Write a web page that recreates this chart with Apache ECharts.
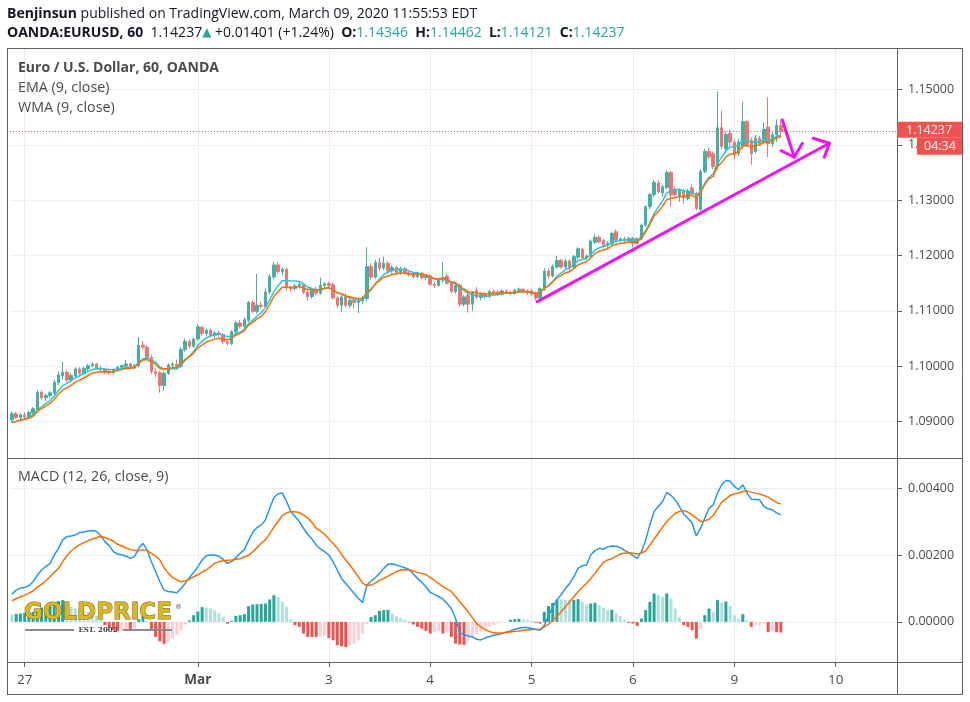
<!DOCTYPE html>
<html><head><meta charset="utf-8">
<script src="https://cdn.jsdelivr.net/npm/echarts@6/dist/echarts.min.js"></script>
<style>html,body{margin:0;padding:0;background:#fff}#c{width:970px;height:702px}</style>
</head><body><div id="c"></div>
<script>
// ---- time axis: hourly sessions (date, first hour, last hour) ----
const sessions = [['02-26',21,23],['02-27',0,23],['02-28',0,16],['03-01',17,23],['03-02',0,23],['03-03',0,23],
  ['03-04',0,23],['03-05',0,23],['03-06',0,16],['03-08',17,23],['03-09',0,23],['03-10',0,14]];
const tickLabels = {'02-27 00':'27','03-01 17':'Mar','03-03 00':'3','03-04 00':'4','03-05 00':'5','03-06 00':'6','03-09 00':'9','03-10 00':'10'};
const priceTicks = [1.09,1.10,1.11,1.12,1.13,1.14,1.15];
const macdTicks = [0,0.002,0.004];

// ---- OHLC (hourly) ----
const open = [
1.0903,1.0914,1.0907,1.0912,1.0908,1.0915,1.0922,1.0953,1.0943,1.0947,
1.0951,1.0970,1.0983,1.0989,1.0975,1.0982,1.0995,1.0987,1.0995,1.1001,
1.1004,1.0996,1.0994,1.0990,1.0988,1.0993,1.0998,1.1000,1.1004,1.0998,
1.1001,1.1038,1.1034,1.1016,1.0990,1.0988,1.0965,1.0987,1.1002,1.1003,
1.1000,1.1030,1.1045,1.1036,1.1049,1.1070,1.1059,1.1065,1.1056,1.1060,
1.1057,1.1044,1.1041,1.1062,1.1078,1.1072,1.1083,1.1115,1.1099,1.1110,
1.1108,1.1134,1.1161,1.1183,1.1171,1.1175,1.1142,1.1140,1.1145,1.1148,
1.1133,1.1126,1.1139,1.1132,1.1146,1.1149,1.1147,1.1123,1.1110,1.1125,
1.1110,1.1119,1.1115,1.1118,1.1122,1.1180,1.1161,1.1187,1.1177,1.1186,
1.1172,1.1178,1.1168,1.1176,1.1168,1.1165,1.1162,1.1168,1.1160,1.1163,
1.1148,1.1146,1.1156,1.1163,1.1150,1.1135,1.1146,1.1112,1.1128,1.1112,
1.1137,1.1124,1.1130,1.1126,1.1135,1.1134,1.1130,1.1136,1.1134,1.1131,
1.1137,1.1139,1.1136,1.1136,1.1132,1.1123,1.1139,1.1172,1.1163,1.1179,
1.1191,1.1179,1.1190,1.1179,1.1197,1.1211,1.1196,1.1199,1.1224,1.1233,
1.1227,1.1218,1.1221,1.1243,1.1227,1.1230,1.1226,1.1231,1.1222,1.1230,
1.1255,1.1288,1.1310,1.1331,1.1313,1.1323,1.1350,1.1320,1.1308,1.1317,
1.1303,1.1322,1.1312,1.1283,1.1352,1.1388,1.1384,1.1362,1.1431,1.1393,
1.1421,1.1405,1.1384,1.1397,1.1442,1.1408,1.1388,1.1412,1.1405,1.1432,
1.1402,1.1418,1.14346];
const high = [
1.0918,1.0917,1.0915,1.0916,1.0919,1.0926,1.0957,1.0956,1.0950,1.0955,
1.0975,1.0990,1.1008,1.0993,1.0987,1.0998,1.0998,1.0999,1.1004,1.1007,
1.1006,1.1001,1.0997,1.0994,1.0996,1.1000,1.1003,1.1011,1.1006,1.1004,
1.1053,1.1045,1.1038,1.1020,1.0996,1.0991,1.0990,1.1005,1.1007,1.1012,
1.1034,1.1050,1.1048,1.1052,1.1076,1.1073,1.1068,1.1068,1.1063,1.1064,
1.1060,1.1048,1.1065,1.1082,1.1083,1.1088,1.1118,1.1119,1.1167,1.1116,
1.1141,1.1166,1.1189,1.1188,1.1178,1.1178,1.1146,1.1149,1.1152,1.1150,
1.1137,1.1142,1.1143,1.1160,1.1152,1.1153,1.1151,1.1127,1.1128,1.1132,
1.1124,1.1124,1.1122,1.1127,1.1215,1.1186,1.1192,1.1196,1.1198,1.1190,
1.1182,1.1181,1.1180,1.1179,1.1172,1.1170,1.1171,1.1170,1.1166,1.1166,
1.1152,1.1160,1.1188,1.1168,1.1154,1.1150,1.1149,1.1128,1.1138,1.1136,
1.1143,1.1133,1.1134,1.1138,1.1138,1.1137,1.1139,1.1139,1.1137,1.1140,
1.1142,1.1141,1.1139,1.1139,1.1135,1.1143,1.1177,1.1176,1.1184,1.1199,
1.1194,1.1194,1.1193,1.1201,1.1215,1.1214,1.1202,1.1229,1.1239,1.1236,
1.1230,1.1226,1.1243,1.1247,1.1233,1.1234,1.1234,1.1234,1.1233,1.1258,
1.1291,1.1313,1.1337,1.1336,1.1328,1.1354,1.1353,1.1324,1.1321,1.1320,
1.1320,1.1328,1.1315,1.1356,1.1392,1.1395,1.1388,1.1497,1.1462,1.1424,
1.1427,1.1410,1.1410,1.1478,1.1445,1.1413,1.1418,1.1416,1.1440,1.1486,
1.1425,1.1446,1.14462];
const low = [
1.0898,1.0905,1.0903,1.0905,1.0906,1.0912,1.0919,1.0939,1.0937,1.0942,
1.0948,1.0966,1.0976,1.0971,1.0972,1.0979,1.0984,1.0984,1.0991,1.0998,
1.0993,1.0990,1.0986,1.0985,1.0985,1.0990,1.0994,1.0997,1.0995,1.0994,
1.0998,1.1030,1.1012,1.0986,1.0980,1.0952,1.0955,1.0984,1.0998,1.0996,
1.0997,1.1026,1.1032,1.1033,1.1046,1.1055,1.1054,1.1052,1.1051,1.1053,
1.1040,1.1037,1.1038,1.1058,1.1068,1.1069,1.1080,1.1096,1.1095,1.1103,
1.1105,1.1130,1.1157,1.1166,1.1165,1.1136,1.1135,1.1137,1.1140,1.1130,
1.1118,1.1122,1.1128,1.1129,1.1140,1.1142,1.1120,1.1105,1.1098,1.1106,
1.1106,1.1104,1.1096,1.1112,1.1118,1.1157,1.1158,1.1172,1.1174,1.1168,
1.1168,1.1165,1.1165,1.1165,1.1162,1.1158,1.1159,1.1157,1.1155,1.1145,
1.1142,1.1143,1.1150,1.1147,1.1132,1.1131,1.1107,1.1108,1.1097,1.1100,
1.1121,1.1119,1.1122,1.1123,1.1129,1.1127,1.1128,1.1130,1.1128,1.1129,
1.1133,1.1132,1.1129,1.1127,1.1119,1.1120,1.1136,1.1158,1.1160,1.1176,
1.1176,1.1175,1.1170,1.1176,1.1193,1.1192,1.1192,1.1196,1.1221,1.1222,
1.1215,1.1214,1.1218,1.1225,1.1224,1.1223,1.1223,1.1215,1.1219,1.1227,
1.1252,1.1284,1.1306,1.1312,1.1306,1.1320,1.1288,1.1306,1.1297,1.1294,
1.1300,1.1308,1.1282,1.1281,1.1349,1.1374,1.1356,1.1355,1.1392,1.1387,
1.1399,1.1374,1.1380,1.1393,1.1396,1.1364,1.1384,1.1398,1.1401,1.1378,
1.1397,1.1405,1.14121];
const close = [
1.0914,1.0907,1.0912,1.0908,1.0916,1.0923,1.0953,1.0943,1.0947,1.0952,
1.0971,1.0984,1.0989,1.0975,1.0983,1.0995,1.0987,1.0996,1.1001,1.1004,
1.0996,1.0994,1.0989,1.0988,1.0994,1.0998,1.1001,1.1004,1.0998,1.1001,
1.1038,1.1034,1.1016,1.0990,1.0987,1.0965,1.0987,1.1002,1.1004,1.1000,
1.1030,1.1045,1.1036,1.1049,1.1071,1.1059,1.1065,1.1056,1.1060,1.1057,
1.1044,1.1041,1.1062,1.1078,1.1072,1.1084,1.1115,1.1099,1.1110,1.1108,
1.1134,1.1162,1.1183,1.1171,1.1175,1.1142,1.1140,1.1145,1.1148,1.1133,
1.1126,1.1139,1.1132,1.1146,1.1149,1.1146,1.1123,1.1110,1.1125,1.1110,
1.1119,1.1115,1.1118,1.1122,1.1180,1.1161,1.1187,1.1177,1.1186,1.1172,
1.1178,1.1168,1.1176,1.1168,1.1165,1.1162,1.1168,1.1160,1.1163,1.1148,
1.1146,1.1156,1.1160,1.1150,1.1135,1.1146,1.1112,1.1125,1.1112,1.1133,
1.1125,1.1130,1.1126,1.1135,1.1133,1.1130,1.1136,1.1133,1.1131,1.1137,
1.1139,1.1135,1.1132,1.1130,1.1123,1.1140,1.1172,1.1163,1.1180,1.1191,
1.1179,1.1190,1.1178,1.1198,1.1212,1.1196,1.1199,1.1226,1.1233,1.1225,
1.1218,1.1222,1.1240,1.1228,1.1230,1.1226,1.1231,1.1222,1.1230,1.1255,
1.1288,1.1310,1.1332,1.1315,1.1324,1.1350,1.1310,1.1310,1.1317,1.1304,
1.1316,1.1312,1.1285,1.1352,1.1388,1.1378,1.1361,1.1431,1.1397,1.1419,
1.1405,1.1383,1.1405,1.1442,1.1401,1.1384,1.1412,1.1402,1.1428,1.1402,
1.1418,1.1435,1.14237];
// level of the averages at the left edge (from prior, unseen bars)
const priorLevel = 1.0894;

// ---- MACD (12, 26, close, 9), in units of 1e-5 ----
const MACD_UNIT = 1e-5;
const macdLine = [
83,95,101,103,108,120,140,155,165,175, 200,220,245,255,257,260,267,269,272,273,
270,258,240,228,210,203,200,197,190,195, 220,235,215,180,150,120,95,91,89,87,
100,115,132,148,165,185,198,200,200,196, 186,175,180,192,205,216,243,268,282,290,
305,340,372,383,385,360,330,315,300,280, 262,248,230,218,210,200,180,155,130,115,
100,85,70,58,110,122,132,145,160,172, 174,170,166,162,157,143,130,118,105,88,
82,76,68,55,40,10,-32,-38,-42,-45, -52,-54,-48,-44,-40,-38,-35,-30,-27,-22,
-19,-17,-17,-20,-22,-25,-10,18,45,65, 82,100,115,135,160,168,170,200,213,220,
217,224,227,226,222,214,207,198,190,210, 245,290,330,345,360,387,378,365,345,322,
310,295,257,280,310,340,350,385,410,423, 421,405,395,410,385,367,366,365,345,338,
335,326,320];
const signalLine = [
63,69,75,80,86,93,104,112,123,135, 148,160,180,198,212,222,230,237,243,248,
252,255,252,247,241,232,227,221,216,214, 213,216,213,205,197,185,162,145,133,126,
120,122,127,135,141,149,155,165,175,180, 183,184,185,187,189,194,199,210,222,235,
245,264,283,300,318,326,330,329,327,320, 311,298,280,272,262,248,235,220,202,185,
170,152,135,116,108,110,116,124,130,137, 143,150,155,156,155,152,148,145,141,133,
124,115,105,98,91,76,60,45,30,12, -5,-15,-23,-29,-33,-33,-33,-32,-30,-28,
-27,-25,-24,-23,-23,-23,-15,-7,5,16, 30,45,60,75,90,103,115,130,145,162,
178,185,189,196,203,205,207,205,203,206, 212,230,248,265,283,300,313,325,330,333,
328,320,310,300,302,307,318,338,358,368, 378,383,385,390,391,388,385,382,378,373,
365,357,352];
const histogram = [
22,24,25,27,28,30,36,43,45,48, 52,62,65,57,45,40,37,32,28,25,
18,5,-10,-18,-25,-28,-27,-24,-26,-19, 8,18,2,-25,-45,-58,-66,-60,-50,-40,
-25,-8,4,20,31,44,43,40,35,25, 15,-5,3,18,20,23,47,52,53,54,
55,67,80,75,60,45,7,-10,-15,-35, -45,-45,-45,-44,-42,-48,-55,-70,-73,-75,
-70,-65,-55,-35,-7,15,20,33,35,36, 25,17,12,7,-2,-8,-15,-20,-27,-35,
-30,-27,-35,-30,-45,-65,-68,-69,-55,-45, -38,-30,-23,-15,-10,-5,-2,0,6,8,
9,8,6,3,-3,-5,30,47,57,67, 67,66,65,66,68,60,52,55,57,50,
42,35,36,25,17,7,-3,-5,-12,10, 35,60,85,80,75,85,70,40,15,-10,
-15,-25,-50,-20,20,40,30,65,58,61, 47,20,9,23,5,-15,-10,-9,-7,-30,
-28,-31,-32];

// ---- drawn annotations, in (bar index, price) ----
const trendLine = [[124.36,1.11165],[193.49,1.14028]];
const trendArrowHead = [[189.70,1.14118],[193.49,1.14028],[192.31,1.13775]];
const downArrowShaft = [[182.36,1.14449],[185.20,1.13775]];
const downArrowHead = [[182.05,1.13894],[185.20,1.13775],[187.10,1.14028]];
const countdown = '04:34';
const changeText = '+0.01401 (+1.24%)';

// ---- build ----
const categories = [];
sessions.forEach(([d,a,b]) => { for (let h=a; h<=b; h++) categories.push(d+' '+String(h).padStart(2,'0')); });
const tickIdx = categories.map((c,i)=> tickLabels[c] ? i : -1).filter(i=>i>=0);
const N = categories.length;
const last = close.length - 1;

function calcEMA(src, n, seed){ const k=2/(n+1); let e=seed; return src.map(v => (e = e + k*(v-e))); }
function calcWMA(src, n, seed){
  return src.map((v,i)=>{ let s=0,w=0; for(let k=0;k<n;k++){ const x = i-k>=0 ? src[i-k] : seed; s+=(n-k)*x; w+=n-k; } return s/w; });
}
const ema = calcEMA(close, 9, priorLevel);
const wma = calcWMA(close, 9, priorLevel);

const UP='#45b0a2', DOWN='#f07472';
const candleData = open.map((o,i)=>[o, close[i], low[i], high[i]]);
const histData = histogram.map((h,i)=>{
  const prev = i>0 ? histogram[i-1] : h;
  const col = h>=0 ? (prev<h ? '#26a69a' : '#b2dfdb') : (prev<h ? '#ffcdd2' : '#ef5350');
  return {value: h*MACD_UNIT, itemStyle:{color: col}};
});

const GRID_C='#e8eef3', AX='#5d606b', TXT='#4a4a4a', FONT='"Open Sans", "Liberation Sans", sans-serif';
const gridL=9.9, gridW=887.1;

const chart = echarts.init(document.getElementById('c'));
const hiddenCat = g => ({type:'category', gridIndex:g, position:'bottom', data:categories, boundaryGap:true,
  axisLine:{show:false, onZero:false}, axisTick:{show:false}, axisLabel:{show:false}, splitLine:{show:false}});
const option = {
  animation:false,
  backgroundColor:'#fff',
  grid:[
    {left:gridL, top:48, width:gridW, height:410, outerBoundsMode:'none'},
    {left:gridL, top:458, width:gridW, height:204, outerBoundsMode:'none'}
  ],
  xAxis:[
    hiddenCat(0), hiddenCat(1),
    {type:'value', gridIndex:0, position:'bottom', min:-0.5, max:N-0.5,
      axisLine:{show:false, onZero:false}, axisTick:{show:false, customValues:tickIdx},
      axisLabel:{show:false, customValues:tickIdx}, splitLine:{show:true, lineStyle:{color:GRID_C, width:1}}},
    {type:'value', gridIndex:1, position:'bottom', min:-0.5, max:N-0.5,
      axisLine:{show:false, onZero:false}, axisTick:{show:true, length:5, customValues:tickIdx, lineStyle:{color:AX}},
      axisLabel:{show:true, customValues:tickIdx, margin:11, color:TXT, fontSize:13.5, fontFamily:FONT,
        formatter:v=>{ const t=tickLabels[categories[Math.round(v)]]||''; return t==='Mar' ? '{b|Mar}' : t; },
        rich:{b:{fontWeight:'bold', fontSize:13.5, color:TXT, fontFamily:FONT}}},
      splitLine:{show:true, lineStyle:{color:GRID_C, width:1}}}
  ],
  yAxis:[
    {type:'value', gridIndex:0, position:'right', min:1.0834, max:1.1575,
      axisLine:{show:false, onZero:false}, axisTick:{show:true, length:5, customValues:priceTicks, lineStyle:{color:AX}},
      axisLabel:{customValues:priceTicks, margin:11, color:TXT, fontSize:12.5, fontFamily:FONT, formatter:v=>v.toFixed(5)},
      splitLine:{show:true, lineStyle:{color:GRID_C, width:1}}},
    {type:'value', gridIndex:1, position:'right', min:-0.0012, max:0.0049,
      axisLine:{show:false, onZero:false}, axisTick:{show:true, length:5, customValues:macdTicks, lineStyle:{color:AX}},
      axisLabel:{customValues:macdTicks, margin:11, color:TXT, fontSize:12.5, fontFamily:FONT, formatter:v=>v.toFixed(5)},
      splitLine:{show:true, lineStyle:{color:GRID_C, width:1}}}
  ],
  series:[
    {type:'candlestick', xAxisIndex:0, yAxisIndex:0, data:candleData, barWidth:3,
      itemStyle:{color:UP, color0:DOWN, borderColor:UP, borderColor0:DOWN, borderWidth:1},
      markLine:{silent:true, precision:5, symbol:['none','none'], label:{show:false},
        lineStyle:{color:'#ef5350', type:[1,2], width:1}, data:[{yAxis:close[last]}]}},
    {type:'line', name:'WMA', xAxisIndex:0, yAxisIndex:0, data:wma, showSymbol:false, lineStyle:{color:'#26c6da', width:1.5}, z:3},
    {type:'line', name:'EMA', xAxisIndex:0, yAxisIndex:0, data:ema, showSymbol:false, lineStyle:{color:'#ff6d00', width:1.5}, z:3},
    ...[trendLine, trendArrowHead, downArrowShaft, downArrowHead].map(d=>({
      type:'line', xAxisIndex:2, yAxisIndex:0, data:d, showSymbol:false, z:6,
      lineStyle:{color:'#f012f0', width:3, cap:'round', join:'round'}})),
    {type:'bar', xAxisIndex:1, yAxisIndex:1, data:histData, barWidth:3},
    {type:'line', xAxisIndex:1, yAxisIndex:1, data:macdLine.map(v=>v*MACD_UNIT), showSymbol:false, lineStyle:{color:'#2196f3', width:1.5}, z:4},
    {type:'line', xAxisIndex:1, yAxisIndex:1, data:signalLine.map(v=>v*MACD_UNIT), showSymbol:false, lineStyle:{color:'#ff6d00', width:1.5}, z:4}
  ]
};
chart.setOption(option);

// overlays (frame, titles, last-price tag, watermark)
const yLast = chart.convertToPixel({yAxisIndex:0}, close[last]);
const ln = (x1,y1,x2,y2)=>({type:'line', silent:true, z:50, shape:{x1,y1,x2,y2}, style:{stroke:AX, lineWidth:1}});
const txt = (x,y,text,extra,z)=>({type:'text', silent:true, z:z||60, x, y,
  style:Object.assign({text, fill:TXT, font:'14.3px '+FONT, verticalAlign:'middle'}, extra||{})});
const fmt = v=>v.toFixed(5);
const HF = '14px '+FONT, HB = 'bold 14px '+FONT;
chart.setOption({graphic:[
  ln(7.5,48,7.5,695), ln(962.5,48,962.5,695), ln(7,48.5,963,48.5), ln(7,694.5,963,694.5),
  ln(7,458.5,963,458.5), ln(7,662.5,963,662.5), ln(897.5,48,897.5,695),
  txt(7,14,'{b|Benjinsun} published on TradingView.com, March 09, 2020 11:55:53 EDT',
    {fill:'#131722', font:HF, rich:{b:{fill:'#131722', font:HB}}}),
  txt(7,33,'{b|OANDA:EURUSD, 60}  '+fmt(close[last])+'{t|▲} '+changeText+'  {b|O:}{g|'+fmt(open[last])+'}  {b|H:}{g|'+fmt(high[last])+'}  {b|L:}{g|'+fmt(low[last])+'}  {b|C:}{g|'+fmt(close[last])+'}',
    {fill:'#131722', font:HF, rich:{
      b:{fill:'#131722', font:HB},
      g:{fill:'#26a69a', font:HF},
      t:{fill:'#26a69a', font:'12px "DejaVu Sans"'}}}),
  txt(18,68,'Euro / U.S. Dollar, 60, OANDA',{font:'bold 14px '+FONT}),
  txt(18,88,'EMA (9, close)'),
  txt(18,108,'WMA (9, close)'),
  txt(18,477,'MACD (12, 26, close, 9)'),
  {type:'rect', silent:true, z:70, shape:{x:897,y:yLast-10,width:65,height:16}, style:{fill:'#ef5350'}},
  txt(906,yLast-1.5,fmt(close[last]),{fill:'#fff', font:'12.5px '+FONT}, 72),
  {type:'rect', silent:true, z:70, shape:{x:917,y:yLast+6,width:45,height:17}, style:{fill:'#ef5350'}},
  txt(924,yLast+14.5,countdown,{fill:'#fff', font:'12.5px '+FONT}, 72),
  {type:'text', silent:true, z:80, x:24, y:602, style:{text:'GOLDPRICE', font:'bold 23px "DejaVu Sans"', fill:'#d9b623', stroke:'#6b5606', lineWidth:0.9, verticalAlign:'top'}},
  {type:'text', silent:true, z:80, x:175, y:604, style:{text:'®', font:'7px "DejaVu Sans"', fill:'#555', verticalAlign:'top'}},
  {type:'line', silent:true, z:80, shape:{x1:25,y1:630,x2:74,y2:630}, style:{stroke:'#8a8a8a', lineWidth:2}},
  {type:'line', silent:true, z:80, shape:{x1:123,y1:630,x2:172,y2:630}, style:{stroke:'#8a8a8a', lineWidth:2}},
  {type:'text', silent:true, z:80, x:98, y:630, style:{text:'EST. 2002', font:'bold 7px "DejaVu Serif"', fill:'#444', align:'center', verticalAlign:'middle'}}
]});
</script></body></html>
